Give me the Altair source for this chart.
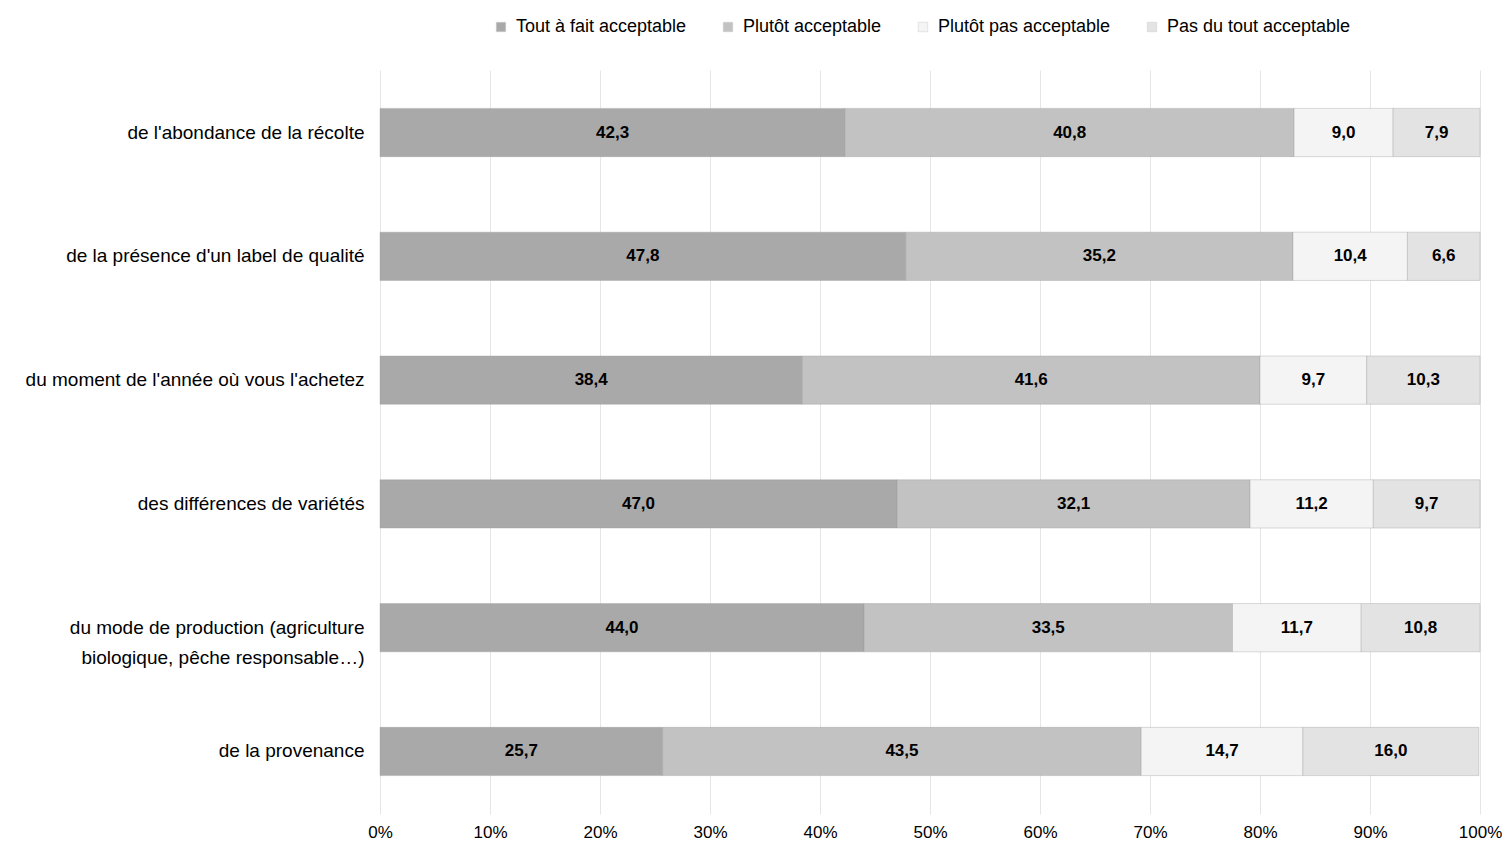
import altair as alt
import pandas as pd

categories = [
    "de l'abondance de la récolte",
    "de la présence d'un label de qualité",
    "du moment de l'année où vous l'achetez",
    "des différences de variétés",
    "du mode de production (agriculture|biologique, pêche responsable…)",
    "de la provenance",
]
series = ["Tout à fait acceptable", "Plutôt acceptable", "Plutôt pas acceptable", "Pas du tout acceptable"]
tout_a_fait = [42.3, 47.8, 38.4, 47.0, 44.0, 25.7]
plutot = [40.8, 35.2, 41.6, 32.1, 33.5, 43.5]
plutot_pas = [9.0, 10.4, 9.7, 11.2, 11.7, 14.7]
pas_du_tout = [7.9, 6.6, 10.3, 9.7, 10.8, 16.0]
colors = ["#a9a9a9", "#c2c2c2", "#f4f4f4", "#e3e3e3"]

rows = []
for i, c in enumerate(categories):
    for j, (s, vals) in enumerate(zip(series, [tout_a_fait, plutot, plutot_pas, pas_du_tout])):
        rows.append({"cat": c, "serie": s, "order": j, "value": vals[i]})
df = pd.DataFrame(rows)

FONT = "Liberation Sans, Arial, sans-serif"

base = alt.Chart(df).transform_stack(
    stack="value", groupby=["cat"], as_=["v0", "v1"], sort=[alt.SortField("order", order="ascending")]
).transform_calculate(
    mid="(datum.v0 + datum.v1) / 2",
    lab="replace(format(datum.value, '.1f'), '.', ',')",
)

y_enc = alt.Y(
    "cat:N",
    sort=categories,
    title=None,
    scale=alt.Scale(paddingInner=0.61, paddingOuter=0.31),
    axis=alt.Axis(
        labelExpr="split(datum.label, '|')",
        labelFontSize=19,
        labelFont=FONT,
        labelColor="#000000",
        labelPadding=16,
        ticks=False,
        domain=False,
        grid=False,
        labelLimit=400,
        labelLineHeight=30,
    ),
)

x_axis = alt.Axis(
    values=list(range(0, 101, 10)),
    labelExpr="datum.value + '%'",
    labelFontSize=17,
    labelFont=FONT,
    labelColor="#000000",
    labelFlush=False,
    ticks=False,
    domain=False,
    grid=True,
    gridColor="#e6e6e6",
    labelPadding=10,
)

bars = base.mark_bar(stroke="#9a9a9a", strokeWidth=0.6, strokeOpacity=0.6).encode(
    x=alt.X("v0:Q", scale=alt.Scale(domain=[0, 100]), title=None, axis=x_axis),
    x2="v1:Q",
    y=y_enc,
    color=alt.Color(
        "serie:N",
        sort=series,
        scale=alt.Scale(domain=series, range=colors),
        legend=alt.Legend(
            title=None,
            orient="none",
            direction="horizontal",
            legendX=112,
            legendY=-52,
            symbolType="square",
            symbolSize=90,
            symbolStrokeColor="#cccccc",
            symbolStrokeWidth=0.5,
            labelFontSize=18,
            labelFont=FONT,
            labelColor="#000000",
            labelLimit=300,
            columnPadding=32,
            symbolOffset=0,
            labelOffset=6,
        ),
    ),
    order=alt.Order("order:Q"),
)

texts = base.mark_text(fontSize=17, font=FONT, fontWeight="bold", color="#000000").encode(
    x=alt.X("mid:Q", scale=alt.Scale(domain=[0, 100]), title=None, axis=x_axis),
    y=y_enc,
    text="lab:N",
)

chart = (bars + texts).properties(
    width=1100,
    height=744,
    background="#ffffff",
    autosize=alt.AutoSizeParams(type="none"),
    padding={"left": 372, "top": 62, "right": 22, "bottom": 35},
).configure_view(stroke="transparent", strokeWidth=0)

chart.save("out.html", embed_options={"renderer": "svg", "actions": False})
